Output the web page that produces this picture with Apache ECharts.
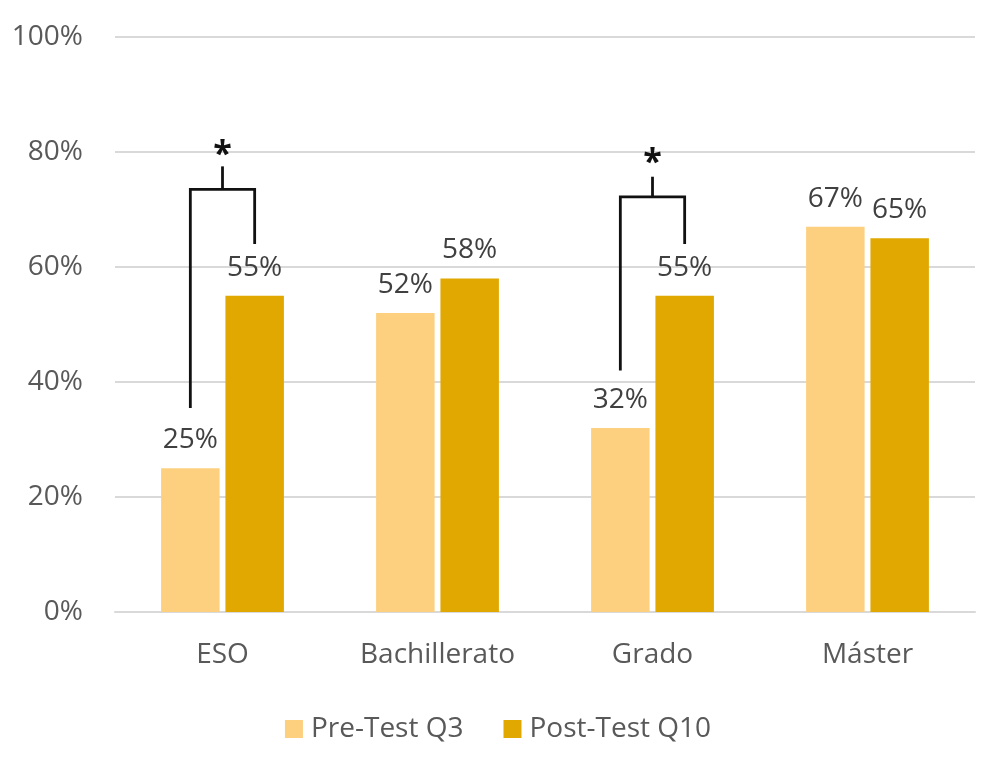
<!DOCTYPE html>
<html><head><meta charset="utf-8">
<script src="https://cdn.jsdelivr.net/npm/echarts@6/dist/echarts.min.js"></script>
<style>html,body{margin:0;padding:0;background:#fff}#c{width:996px;height:764px}</style>
</head><body><div id="c"></div>
<script>
const categories = ['ESO', 'Bachillerato', 'Grado', 'Máster'];
const preTest = [25, 52, 32, 67];
const postTest = [55, 58, 55, 65];
const seriesNames = ['Pre-Test Q3', 'Post-Test Q10'];
const yTicks = [0, 20, 40, 60, 80, 100];

// significance brackets (category index, values in %)
const bracketCatIdx = [0, 2];
const bracketLeftBottom = [35.5, 42];
const bracketTop = [73.5, 72.2];
const bracketRightBottom = [64, 64];
const bracketTickTop = [77.5, 75.7];
const bracketStar = [80, 78.6];

const BAR_W = 0.272, BAR_GAP = 0.10;
const FONT = '"Open Sans", "Noto Sans", sans-serif';
const FS = 28;

const bracketData = bracketCatIdx.map((c, i) => [c, bracketLeftBottom[i], bracketTop[i], bracketRightBottom[i], bracketTickTop[i], bracketStar[i]]);

const chart = echarts.init(document.getElementById('c'));
chart.setOption({
  animation: false,
  grid: { left: 115, right: 21, top: 37, bottom: 152 },
  legend: {
    bottom: 16, left: 'center', itemWidth: 18, itemHeight: 18, itemGap: 40,
    icon: 'rect', data: seriesNames,
    textStyle: { fontFamily: FONT, fontSize: FS, color: '#595959', padding: [0, 0, 0, 3] }
  },
  xAxis: {
    type: 'category', data: categories,
    axisLine: { lineStyle: { color: '#D9D9D9', width: 2 } },
    axisTick: { show: false },
    axisLabel: { fontFamily: FONT, fontSize: FS, color: '#595959', margin: 29 }
  },
  yAxis: {
    type: 'value', min: 0, max: 100, interval: 20,
    axisLabel: { fontFamily: FONT, fontSize: FS, color: '#595959', margin: 32, formatter: v => v + '%' },
    splitLine: { lineStyle: { color: '#D9D9D9', width: 2 } },
    axisLine: { show: false }, axisTick: { show: false }
  },
  series: [
    {
      name: seriesNames[0], type: 'bar', data: preTest,
      barWidth: (BAR_W * 100) + '%', barGap: (BAR_GAP * 100) + '%',
      itemStyle: { color: '#FDD07F' },
      label: { show: true, position: 'top', distance: 14, formatter: p => p.value + '%', fontFamily: FONT, fontSize: FS, color: '#404040' }
    },
    {
      name: seriesNames[1], type: 'bar', data: postTest,
      barWidth: (BAR_W * 100) + '%', barGap: (BAR_GAP * 100) + '%',
      itemStyle: { color: '#E0A800' },
      label: { show: true, position: 'top', distance: 14, formatter: p => p.value + '%', fontFamily: FONT, fontSize: FS, color: '#404040' }
    },
    {
      type: 'custom', data: bracketData, z: 10, silent: true,
      encode: { x: 0, y: 1 },
      renderItem: function (params, api) {
        const c = api.value(0);
        const band = api.size([1, 0])[0];
        const off = (BAR_W + BAR_W * BAR_GAP) / 2 * band;
        const center = api.coord([c, 0])[0];
        const xl = center - off, xr = center + off;
        const yLB = api.coord([c, api.value(1)])[1];
        const yT = api.coord([c, api.value(2)])[1];
        const yRB = api.coord([c, api.value(3)])[1];
        const yTick = api.coord([c, api.value(4)])[1];
        const yStar = api.coord([c, api.value(5)])[1];
        const style = { stroke: '#111', lineWidth: 2.8, fill: null };
        return {
          type: 'group',
          children: [
            { type: 'polyline', shape: { points: [[xl, yLB], [xl, yT], [xr, yT], [xr, yRB]] }, style: style },
            { type: 'line', shape: { x1: center, y1: yT, x2: center, y2: yTick }, style: style },
            { type: 'text', x: center, y: yStar + 3, style: { text: '*', fontFamily: FONT, fontSize: 34, fontWeight: 'bold', fill: '#111', align: 'center', verticalAlign: 'middle' } }
          ]
        };
      }
    }
  ]
});
</script></body></html>
